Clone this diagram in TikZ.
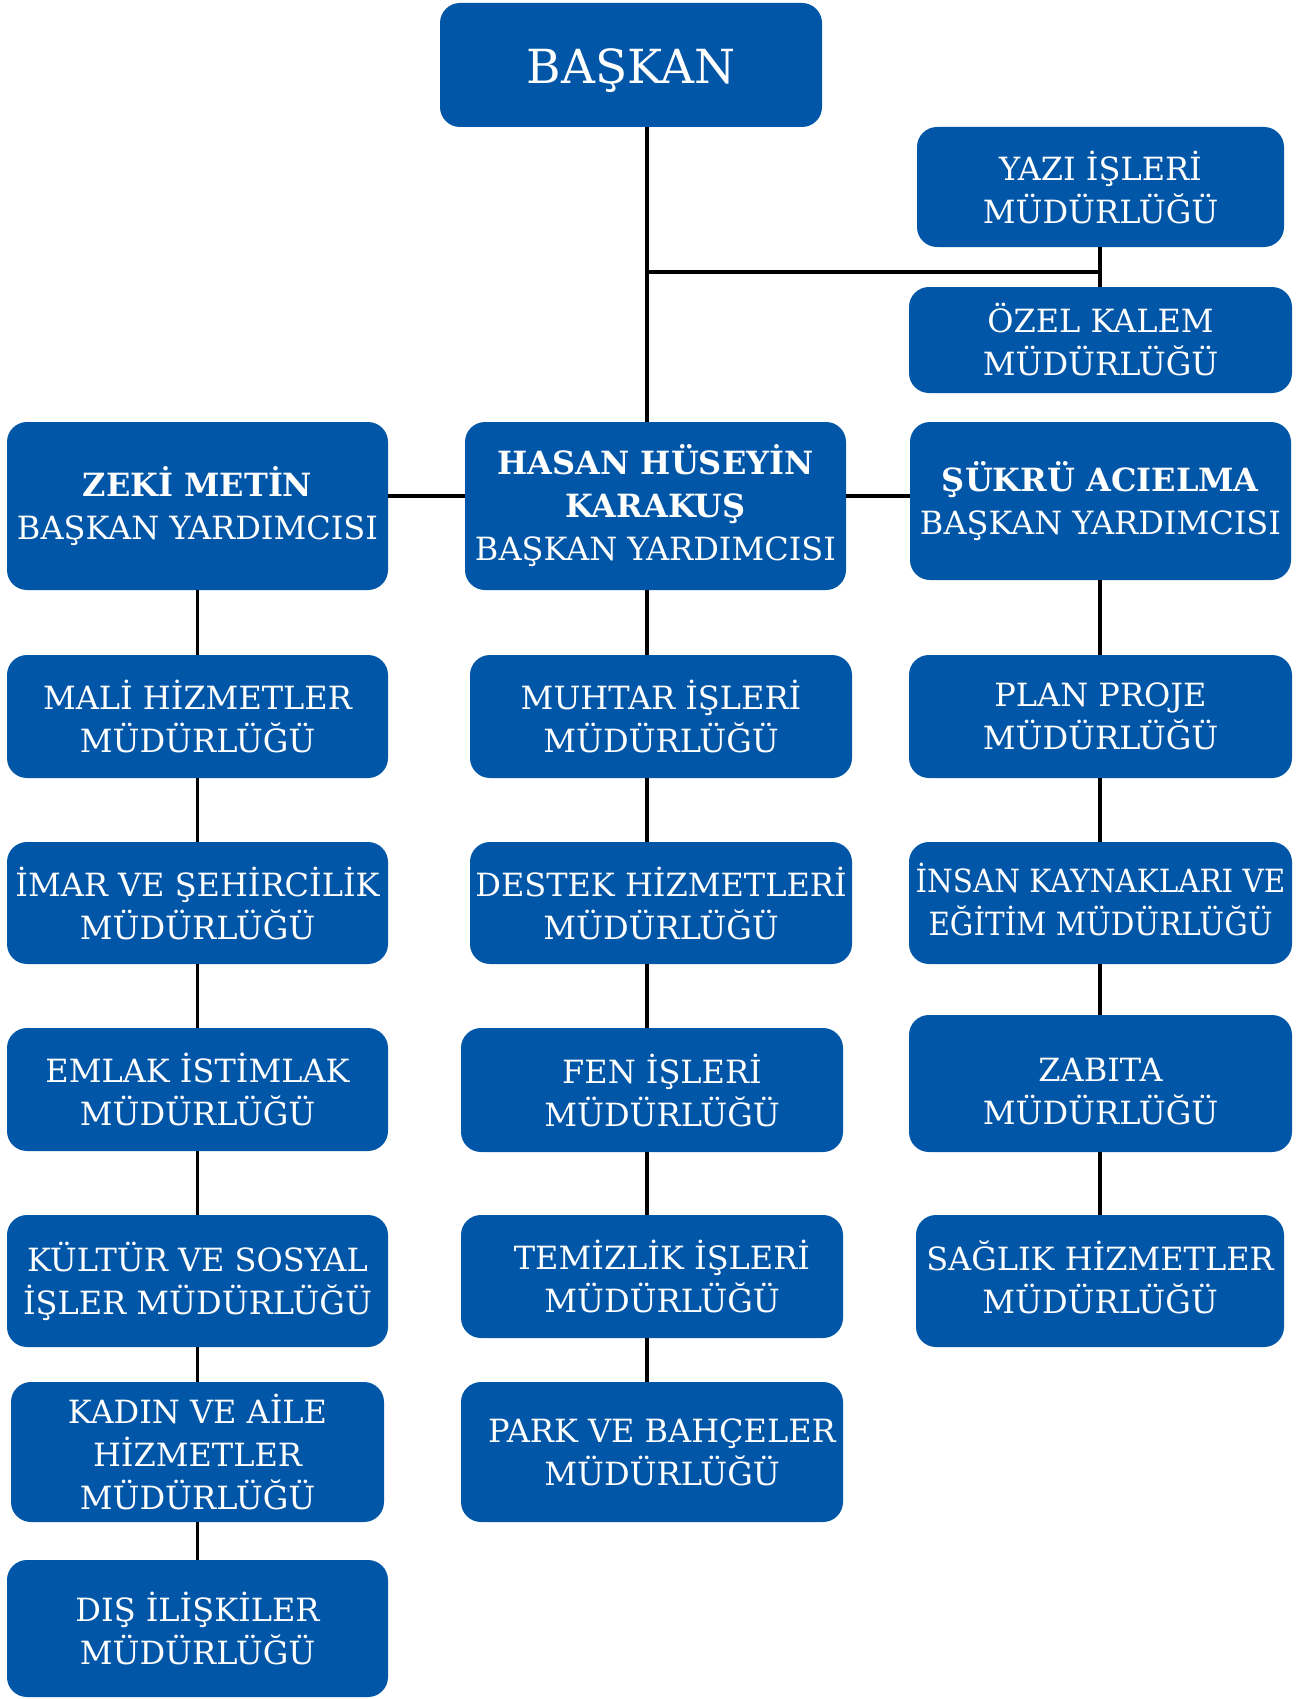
\documentclass[tikz,border=0pt]{standalone}
\usepackage{fontspec}
\setmainfont{DejaVu Serif}
\newfontfamily\narrowfont[FakeStretch=0.92]{DejaVu Serif}
\definecolor{orgblue}{RGB}{2,86,167}
\begin{document}
\begin{tikzpicture}[x=1pt,y=-1pt,
  box/.style={rectangle, rounded corners=20pt, fill=orgblue, text=white, inner sep=0pt,
    align=center, font=\fontsize{32pt}{43pt}\selectfont, minimum width=381pt},
  lbl/.style={text=white, align=center, font=\fontsize{32pt}{43pt}\selectfont},
  link/.style={line width=3.5pt, black}]
\useasboundingbox (0,0) rectangle (1300,1699);
\coordinate (cx) at (647,0);
\coordinate (rx) at (1100,0);
\coordinate (hy) at (0,272);
\coordinate (dy) at (0,496);
% top
\node[box, minimum width=382pt, minimum height=124pt, label={[lbl, font=\fontsize{47pt}{56pt}\selectfont, yshift=-6pt]center:BAŞKAN}] (baskan) at (631,65) {};
\node[box, minimum width=367pt, minimum height=120pt] (yazi) at (1100.5,187) {YAZI İŞLERİ\\MÜDÜRLÜĞÜ};
\node[box, minimum width=383pt, minimum height=106pt] (ozel) at (1100.5,340) {ÖZEL KALEM\\MÜDÜRLÜĞÜ};
% deputies
\node[box, minimum height=168pt] (zeki) at (197.5,506) {\textbf{ZEKİ METİN}\\BAŞKAN YARDIMCISI};
\node[box, minimum height=168pt] (hasan) at (655.5,506) {\textbf{HASAN HÜSEYİN}\\\textbf{KARAKUŞ}\\BAŞKAN YARDIMCISI};
\node[box, minimum height=158pt] (sukru) at (1100.5,501) {\textbf{ŞÜKRÜ ACIELMA}\\BAŞKAN YARDIMCISI};
% left column
\node[box, minimum height=123pt] (mali) at (197.5,716.5) {MALİ HİZMETLER\\MÜDÜRLÜĞÜ};
\node[box, minimum height=122pt] (imar) at (197.5,903) {İMAR VE ŞEHİRCİLİK\\MÜDÜRLÜĞÜ};
\node[box, minimum height=123pt] (emlak) at (197.5,1089.5) {EMLAK İSTİMLAK\\MÜDÜRLÜĞÜ};
\node[box, minimum height=132pt] (kultur) at (197.5,1281) {KÜLTÜR VE SOSYAL\\İŞLER MÜDÜRLÜĞÜ};
\node[box, minimum width=373pt, minimum height=140pt] (kadin) at (197.5,1452) {KADIN VE AİLE\\HİZMETLER\\MÜDÜRLÜĞÜ};
\node[box, minimum height=137pt] (dis) at (197.5,1628.5) {DIŞ İLİŞKİLER\\MÜDÜRLÜĞÜ};
% middle column
\node[box, minimum width=382pt, minimum height=123pt] (muhtar) at (661,716.5) {MUHTAR İŞLERİ\\MÜDÜRLÜĞÜ};
\node[box, minimum width=382pt, minimum height=122pt] (destek) at (661,903) {DESTEK HİZMETLERİ\\MÜDÜRLÜĞÜ};
\node[box, minimum width=382pt, minimum height=124pt, label={[lbl, xshift=10pt]center:{FEN İŞLERİ\\MÜDÜRLÜĞÜ}}] (fen) at (652,1090) {};
\node[box, minimum width=382pt, minimum height=123pt, label={[lbl, xshift=10pt]center:{TEMİZLİK İŞLERİ\\MÜDÜRLÜĞÜ}}] (temizlik) at (652,1276.5) {};
\node[box, minimum width=382pt, minimum height=140pt, label={[lbl, xshift=10pt]center:{PARK VE BAHÇELER\\MÜDÜRLÜĞÜ}}] (park) at (652,1452) {};
% right column
\node[box, minimum width=383pt, minimum height=123pt] (plan) at (1100.5,716.5) {PLAN PROJE\\MÜDÜRLÜĞÜ};
\node[box, minimum width=383pt, minimum height=122pt, label={[lbl, font=\narrowfont\fontsize{32pt}{43pt}\selectfont, yshift=4pt]center:{İNSAN KAYNAKLARI VE\\EĞİTİM MÜDÜRLÜĞÜ}}] (insan) at (1100.5,903) {};
\node[box, minimum width=383pt, minimum height=137pt, label={[lbl, yshift=-8pt]center:{ZABITA\\MÜDÜRLÜĞÜ}}] (zabita) at (1100.5,1083.5) {};
\node[box, minimum width=368pt, minimum height=132pt, label={[lbl, yshift=4pt]center:{SAĞLIK HİZMETLER\\MÜDÜRLÜĞÜ}}] (saglik) at (1100,1281) {};
% connectors
\draw[link] (cx |- baskan.south) -- (cx |- hasan.north);
\draw[link] (cx |- hy) -- (rx |- hy);
\draw[link] (rx |- yazi.south) -- (rx |- ozel.north);
\draw[link] (zeki.east |- dy) -- (hasan.west |- dy);
\draw[link] (hasan.east |- dy) -- (sukru.west |- dy);
\draw[link] (zeki.south) -- (mali.north);
\draw[link] (mali.south) -- (imar.north);
\draw[link] (imar.south) -- (emlak.north);
\draw[link] (emlak.south) -- (kultur.north);
\draw[link] (kultur.south) -- (kadin.north);
\draw[link] (kadin.south) -- (dis.north);
\draw[link] (cx |- hasan.south) -- (cx |- muhtar.north);
\draw[link] (cx |- muhtar.south) -- (cx |- destek.north);
\draw[link] (cx |- destek.south) -- (cx |- fen.north);
\draw[link] (cx |- fen.south) -- (cx |- temizlik.north);
\draw[link] (cx |- temizlik.south) -- (cx |- park.north);
\draw[link] (rx |- sukru.south) -- (rx |- plan.north);
\draw[link] (rx |- plan.south) -- (rx |- insan.north);
\draw[link] (rx |- insan.south) -- (rx |- zabita.north);
\draw[link] (rx |- zabita.south) -- (rx |- saglik.north);
\end{tikzpicture}
\end{document}
